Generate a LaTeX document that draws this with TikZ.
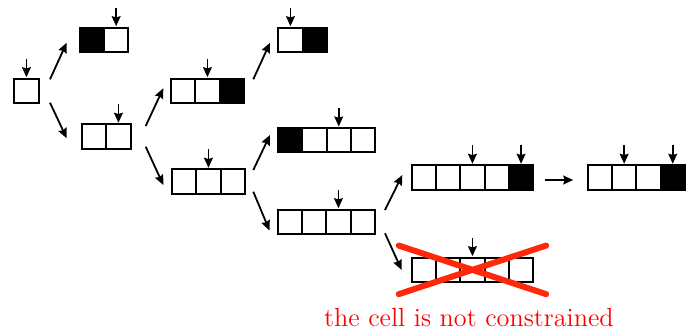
\documentclass[tikz,border=0pt]{standalone}
\usetikzlibrary{arrows.meta,positioning}
\definecolor{crossred}{RGB}{255,40,10}
\tikzset{
  x=0.5pt, y=-0.5pt,
  cell/.style={draw, line width=1pt, minimum width=12.15pt, minimum height=12.15pt,
    inner sep=0pt, outer sep=0pt, anchor=north west},
  blk/.style={cell, fill=black},
  nxt/.style={right=0pt of #1},
  ptr/.style={line width=0.9pt, -{Stealth[length=5pt,width=4.4pt,inset=0.6pt]}},
  conn/.style={line width=0.9pt, -{Stealth[length=5pt,width=4.4pt,inset=0.6pt]}},
  crossln/.style={line width=3pt, line cap=round, draw=crossred},
}
\newcommand{\pointer}[1]{\draw[ptr] ([shift={(0,-20)}]#1.north) -- ([shift={(0,-1.5)}]#1.north);}
\begin{document}
\begin{tikzpicture}
\useasboundingbox (0,0) rectangle (687,333);
% root
\node[cell] (r1) at (14.3,78.7) {};
% A
\node[blk] (a1) at (79.7,27.7) {};
\node[cell, nxt=a1] (a2) {};
% B
\node[cell] (b1) at (82,124.3) {};
\node[cell, nxt=b1] (b2) {};
% C
\node[cell] (c1) at (171,78.7) {};
\node[cell, nxt=c1] (c2) {};
\node[blk, nxt=c2] (c3) {};
% D
\node[cell] (d1) at (172,169.3) {};
\node[cell, nxt=d1] (d2) {};
\node[cell, nxt=d2] (d3) {};
% E
\node[cell] (e1) at (278.3,27.7) {};
\node[blk, nxt=e1] (e2) {};
% F
\node[blk] (f1) at (278,128) {};
\node[cell, nxt=f1] (f2) {};
\node[cell, nxt=f2] (f3) {};
\node[cell, nxt=f3] (f4) {};
% G
\node[cell] (g1) at (277.7,209.7) {};
\node[cell, nxt=g1] (g2) {};
\node[cell, nxt=g2] (g3) {};
\node[cell, nxt=g3] (g4) {};
% H
\node[cell] (h1) at (411.7,165.3) {};
\node[cell, nxt=h1] (h2) {};
\node[cell, nxt=h2] (h3) {};
\node[cell, nxt=h3] (h4) {};
\node[blk, nxt=h4] (h5) {};
% I
\node[cell] (i1) at (587.7,165.3) {};
\node[cell, nxt=i1] (i2) {};
\node[cell, nxt=i2] (i3) {};
\node[blk, nxt=i3] (i4) {};
% J
\node[cell] (j1) at (411.7,257.7) {};
\node[cell, nxt=j1] (j2) {};
\node[cell, nxt=j2] (j3) {};
\node[cell, nxt=j3] (j4) {};
\node[cell, nxt=j4] (j5) {};
% pointers
\pointer{r1}
\pointer{a2}
\pointer{b2}
\pointer{c2}
\pointer{d2}
\pointer{e1}
\pointer{f3}
\pointer{g3}
\pointer{h3}
\pointer{h5}
\pointer{i2}
\pointer{i4}
\pointer{j3}
% connectors
\draw[conn] ([shift={(11.4,-11.55)}]r1.east) -- ([shift={(-13,2.85)}]a1.west);
\draw[conn] ([shift={(11.4,11.85)}]r1.east) -- ([shift={(-15.3,1.85)}]b1.west);
\draw[conn] ([shift={(15.1,-10.45)}]b2.east) -- ([shift={(-7.7,-2.55)}]c1.west);
\draw[conn] ([shift={(15.1,10.25)}]b2.east) -- ([shift={(-8.7,3.55)}]d1.west);
\draw[conn] ([shift={(9.4,-11.55)}]c3.east) -- ([shift={(-8.3,2.85)}]e1.west);
\draw[conn] ([shift={(8.4,-11.45)}]d3.east) -- ([shift={(-8,-5.15)}]f1.west);
\draw[conn] ([shift={(8.4,10.25)}]d3.east) -- ([shift={(-8.2,8.65)}]g1.west);
\draw[conn] ([shift={(10.1,-11.85)}]g4.east) -- ([shift={(-9.4,-2.45)}]h1.west);
\draw[conn] ([shift={(10.1,11.45)}]g4.east) -- ([shift={(-10,0.15)}]j1.west);
\draw[conn] ([shift={(11.8,2.55)}]h5.east) -- ([shift={(-14.4,2.55)}]i1.west);
% cross
\draw[crossln] ([shift={(-73.7,-24.3)}]j3.center) -- ([shift={(73.7,24.3)}]j3.center);
\draw[crossln] ([shift={(-73.7,24.3)}]j3.center) -- ([shift={(73.7,-24.3)}]j3.center);
% label
\node[anchor=base, text=red, inner sep=0pt, font=\fontsize{13.1}{15}\selectfont] (lbl)
  at ([shift={(-3.5,56.6)}]j3.center) {the cell is not constrained};
\end{tikzpicture}
\end{document}
